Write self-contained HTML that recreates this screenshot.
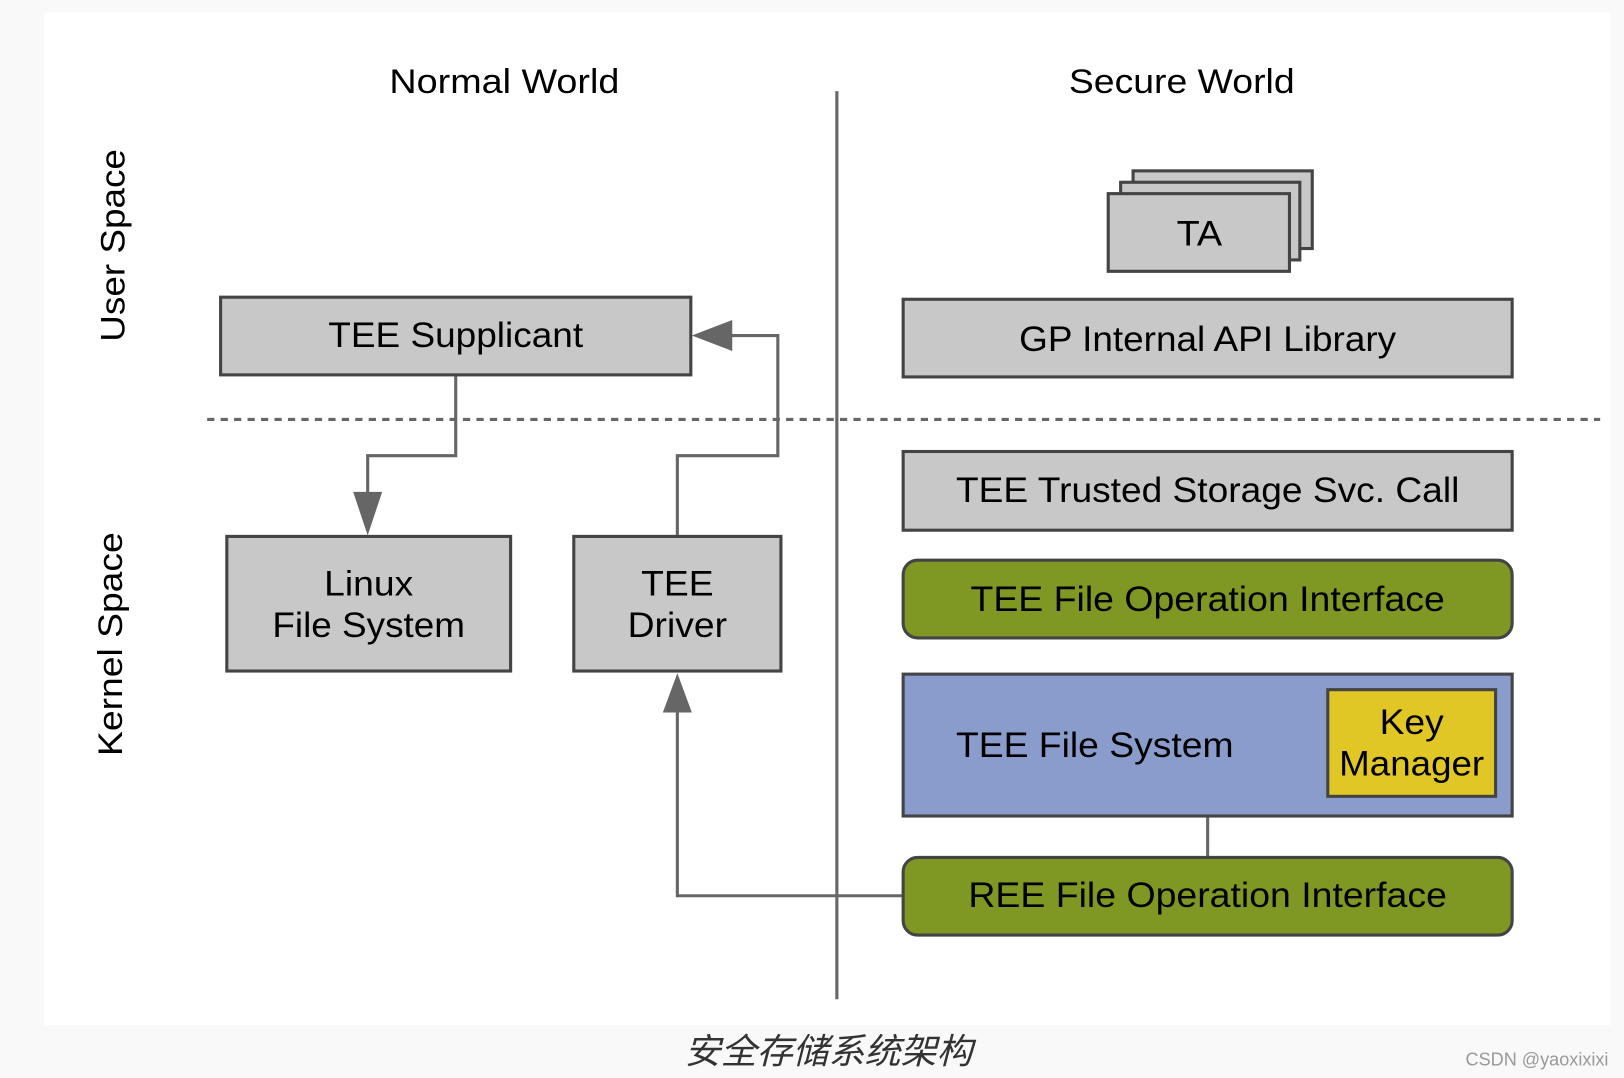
<!DOCTYPE html>
<html><head><meta charset="utf-8"><style>
html,body{margin:0;padding:0;background:#f9f9f9;}
svg{display:block;}
text{font-family:"Liberation Sans",sans-serif;fill:#000;}
</style></head><body>
<svg width="1624" height="1078" viewBox="0 0 1568 1041" preserveAspectRatio="none" xmlns="http://www.w3.org/2000/svg">
<rect x="0" y="0" width="1568" height="1041" fill="#f9f9f9"/>
<rect x="43" y="12" width="1512" height="978" fill="#ffffff"/>
<g font-size="33">
<text x="487" y="90" text-anchor="middle" textLength="222" lengthAdjust="spacingAndGlyphs">Normal World</text>
<text x="1141" y="90" text-anchor="middle" textLength="218" lengthAdjust="spacingAndGlyphs">Secure World</text>
<text transform="translate(120,237) rotate(-90)" text-anchor="middle" textLength="186" lengthAdjust="spacingAndGlyphs">User Space</text>
<text transform="translate(118,622) rotate(-90)" text-anchor="middle" textLength="216" lengthAdjust="spacingAndGlyphs">Kernel Space</text>
</g>
<line x1="808" y1="88" x2="808" y2="965" stroke="#666" stroke-width="3"/>
<line x1="200" y1="405" x2="1545" y2="405" stroke="#666" stroke-width="3" stroke-dasharray="7,6"/>
<!-- connectors -->
<g fill="none" stroke="#666" stroke-width="3">
<polyline points="440,362 440,440 355,440 355,480"/>
<polyline points="654,518 654,440 751,440 751,324 705,324"/>
<polyline points="872,865 654,865 654,686"/>
<line x1="1166" y1="788" x2="1166" y2="828"/>
</g>
<g fill="#666">
<polygon points="341,475 369,475 355,517"/>
<polygon points="707,309 707,339 668,324"/>
<polygon points="640,688 668,688 654,650"/>
</g>
<g stroke="#444" stroke-width="3">
<rect x="213" y="287" width="454" height="75" fill="#c8c8c8"/>
<rect x="219" y="518" width="274" height="130" fill="#c8c8c8"/>
<rect x="554" y="518" width="200" height="130" fill="#c8c8c8"/>
<rect x="1094" y="165" width="173" height="75" fill="#c8c8c8"/>
<rect x="1082" y="176" width="173" height="75" fill="#c8c8c8"/>
<rect x="1070" y="187" width="175" height="75" fill="#c8c8c8"/>
<rect x="872" y="289" width="588" height="75" fill="#c8c8c8"/>
<rect x="872" y="436" width="588" height="76" fill="#c8c8c8"/>
<rect x="872" y="541" width="588" height="75" rx="14" fill="#7f9824"/>
<rect x="872" y="651" width="588" height="137" fill="#8a9ccb"/>
<rect x="1282" y="666" width="162" height="103" fill="#e1c726"/>
<rect x="872" y="828" width="588" height="75" rx="14" fill="#7f9824"/>
</g>
<g font-size="34" text-anchor="middle">
<text x="440" y="335" textLength="246" lengthAdjust="spacingAndGlyphs">TEE Supplicant</text>
<text x="356" y="575" textLength="86" lengthAdjust="spacingAndGlyphs">Linux</text>
<text x="356" y="615" textLength="186" lengthAdjust="spacingAndGlyphs">File System</text>
<text x="654" y="575" textLength="70" lengthAdjust="spacingAndGlyphs">TEE</text>
<text x="654" y="615" textLength="96" lengthAdjust="spacingAndGlyphs">Driver</text>
<text x="1158" y="237" textLength="44" lengthAdjust="spacingAndGlyphs">TA</text>
<text x="1166" y="339" textLength="364" lengthAdjust="spacingAndGlyphs">GP Internal API Library</text>
<text x="1166" y="485" textLength="486" lengthAdjust="spacingAndGlyphs">TEE Trusted Storage Svc. Call</text>
<text x="1166" y="590" textLength="458" lengthAdjust="spacingAndGlyphs">TEE File Operation Interface</text>
<text x="1057" y="731" textLength="268" lengthAdjust="spacingAndGlyphs">TEE File System</text>
<text x="1363" y="709" textLength="62" lengthAdjust="spacingAndGlyphs">Key</text>
<text x="1363" y="749" textLength="140" lengthAdjust="spacingAndGlyphs">Manager</text>
<text x="1166" y="876" textLength="462" lengthAdjust="spacingAndGlyphs">REE File Operation Interface</text>
</g>
<text x="800" y="1027" text-anchor="middle" font-size="34" font-style="italic" fill="#333" style="font-family:'Liberation Sans','Noto Sans CJK SC',sans-serif;fill:#333" textLength="278" lengthAdjust="spacingAndGlyphs">安全存储系统架构</text>
<text x="1553" y="1029" text-anchor="end" font-size="18" style="fill:#999" textLength="138" lengthAdjust="spacingAndGlyphs">CSDN @yaoxixixi</text>
</svg>
</body></html>
